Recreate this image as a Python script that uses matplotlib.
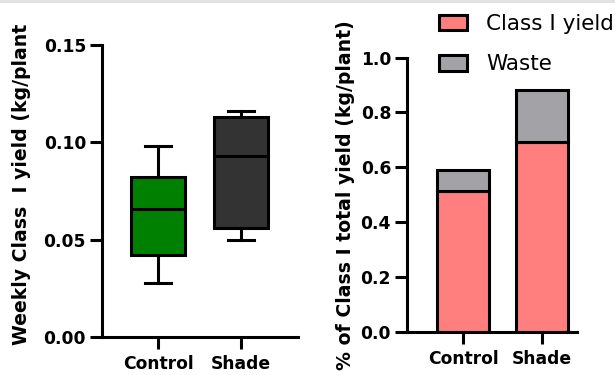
import matplotlib
matplotlib.use("Agg")
import matplotlib.pyplot as plt
from matplotlib.patches import Rectangle

# data
groups = ["Control", "Shade"]
whisker_low = [0.028, 0.050]
q1 = [0.042, 0.056]
median = [0.066, 0.093]
q3 = [0.082, 0.113]
whisker_high = [0.098, 0.116]
box_colors = ["#008000", "#333333"]

class1_yield = [0.515, 0.692]
waste = [0.075, 0.190]

plt.rcParams['font.family'] = ['DejaVu Sans']
lw = 2.2

fig = plt.figure(figsize=(6.15, 3.75), dpi=100)
fig.add_artist(Rectangle((0, 0.992), 1, 0.008, transform=fig.transFigure,
                         color="#e2e2e2", lw=0))

#%% Left: box plot
ax1 = fig.add_axes([0.1659, 0.1013, 0.3187, 0.7787])
stats = []
for i in range(len(groups)):
    stats.append(dict(med=median[i], q1=q1[i], q3=q3[i],
                      whislo=whisker_low[i], whishi=whisker_high[i], label=groups[i]))
bp = ax1.bxp(stats, positions=[0, 1], widths=0.64, capwidths=0.32,
             showfliers=False, patch_artist=True,
             boxprops=dict(lw=lw, edgecolor="black"),
             medianprops=dict(color="black", lw=lw),
             whiskerprops=dict(color="black", lw=lw),
             capprops=dict(color="black", lw=lw))
for patch, c in zip(bp['boxes'], box_colors):
    patch.set_facecolor(c)
ax1.set_xlim(-0.675, 1.687)
ax1.set_ylim(0, 0.15)
ax1.set_yticks([0, 0.05, 0.10, 0.15])
ax1.set_yticklabels(["0.00", "0.05", "0.10", "0.15"])
# label is cut in the original, keep it as shown
fig.text(22 / 615, 30 / 375, "Weekly Class  I yield (kg/plant", rotation=90,
         fontsize=13.6, fontweight="bold", ha="center", va="bottom")

#%% Right: stacked bars
ax2 = fig.add_axes([0.6618, 0.1155, 0.2764, 0.7307])
x = [0, 1]
ax2.bar(x, class1_yield, width=0.66, color="#ff7f7f", edgecolor="black", lw=lw,
        label="Class I yield")
ax2.bar(x, waste, width=0.66, bottom=class1_yield, color="#a3a3a7",
        edgecolor="black", lw=lw, label="Waste")
ax2.set_xlim(-0.709, 1.443)
ax2.set_ylim(0, 1.0)
ax2.set_yticks([0, 0.2, 0.4, 0.6, 0.8, 1.0])
ax2.set_yticklabels(["0.0", "0.2", "0.4", "0.6", "0.8", "1.0"])
ax2.set_ylabel("% of Class I total yield (kg/plant)", fontsize=13.6,
               fontweight="bold", labelpad=4)

for ax in (ax1, ax2):
    ax.set_xticks([0, 1])
    ax.set_xticklabels(groups)
    for s in ("top", "right"):
        ax.spines[s].set_visible(False)
    for s in ("left", "bottom"):
        ax.spines[s].set_linewidth(lw)
    ax.tick_params(width=lw, length=8.5, labelsize=12.3, pad=3)
    ax.tick_params(axis="x", pad=4.5)
    for t in ax.get_xticklabels() + ax.get_yticklabels():
        t.set_fontweight("bold")

fig.legend(loc="upper left", bbox_to_anchor=(439 / 615, 1 - 14 / 375),
           frameon=False, fontsize=15.5, handlelength=1.3, handleheight=0.75,
           handletextpad=0.9, labelspacing=0.95, borderaxespad=0, borderpad=0)

fig.savefig("out.png", dpi=100)
